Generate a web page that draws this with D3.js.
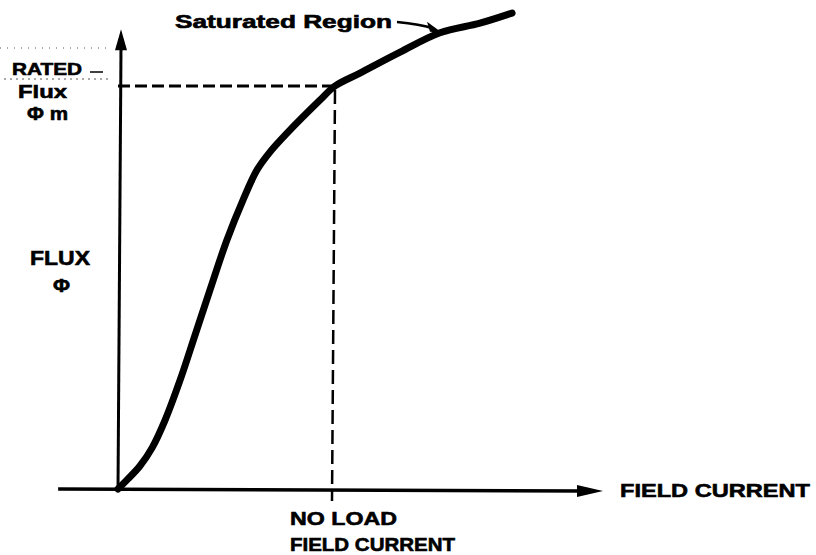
<!DOCTYPE html>
<html>
<head>
<meta charset="utf-8">
<script src="https://cdn.jsdelivr.net/npm/d3@7"></script>
<style>
  body { margin: 0; background: #fff; }
  text { font-family: "Liberation Sans", Arial, sans-serif; font-weight: bold; fill: #000; stroke: #000; stroke-width: 0.6; }
</style>
</head>
<body>
<div id="chart"></div>
<script>
var width = 816;
var height = 555;

// magnetization curve, 1 = no load field current / rated flux
var fieldCurrent = [0, 0.046, 0.101, 0.157, 0.217, 0.286, 0.355, 0.424, 0.502, 0.576, 0.641, 0.700, 0.779, 0.931, 1.0, 1.115, 1.300, 1.484, 1.668, 1.816];
var flux = [0, 0.025, 0.057, 0.102, 0.171, 0.270, 0.382, 0.494, 0.618, 0.717, 0.792, 0.836, 0.883, 0.965, 1.0, 1.032, 1.084, 1.132, 1.156, 1.181];

var noLoadCurrent = 1.0;
var ratedFlux = 1.0;
var xAxisExtent = [-0.276, 2.235];
var yAxisExtent = [0, 1.141];

var svg = d3.select("#chart")
    .append("svg")
    .attr("width", width)
    .attr("height", height);

var xScale = d3.scaleLinear().domain([0, 1]).range([118, 335]);
var yScale = d3.scaleLinear().domain([0, 1]).range([489, 86]);

// scan artifacts near the rated flux label
svg.append("line")
    .attr("x1", 0).attr("x2", 106).attr("y1", 48).attr("y2", 48)
    .attr("stroke", "#555").attr("stroke-width", 1)
    .attr("stroke-dasharray", "1,6");
svg.append("line")
    .attr("x1", 4).attr("x2", 108).attr("y1", 79).attr("y2", 79)
    .attr("stroke", "#555").attr("stroke-width", 1)
    .attr("stroke-dasharray", "2,4");
svg.append("line")
    .attr("x1", 90).attr("x2", 103).attr("y1", 72).attr("y2", 72)
    .attr("stroke", "#000").attr("stroke-width", 1.5);

// axes
svg.append("line")
    .attr("x1", xScale(xAxisExtent[0])).attr("x2", xScale(xAxisExtent[1]) - 20)
    .attr("y1", yScale(0)).attr("y2", yScale(0) + 2)
    .attr("stroke", "#000").attr("stroke-width", 3.5);
svg.append("path")
    .attr("d", "M" + xScale(xAxisExtent[1]) + "," + (yScale(0) + 2) +
         "L" + (xScale(xAxisExtent[1]) - 26) + "," + (yScale(0) - 4) +
         "L" + (xScale(xAxisExtent[1]) - 26) + "," + (yScale(0) + 8) + "Z")
    .attr("fill", "#000");

svg.append("line")
    .attr("x1", xScale(0)).attr("x2", xScale(0) + 3)
    .attr("y1", yScale(0)).attr("y2", yScale(yAxisExtent[1]) + 18)
    .attr("stroke", "#000").attr("stroke-width", 3);
svg.append("path")
    .attr("d", "M" + (xScale(0) + 3) + "," + yScale(yAxisExtent[1]) +
         "L" + (xScale(0) - 3) + "," + (yScale(yAxisExtent[1]) + 21) +
         "L" + (xScale(0) + 9) + "," + (yScale(yAxisExtent[1]) + 21) + "Z")
    .attr("fill", "#000");

// rated flux / no load current guides
svg.append("line")
    .attr("x1", xScale(0)).attr("x2", xScale(noLoadCurrent))
    .attr("y1", yScale(ratedFlux)).attr("y2", yScale(ratedFlux))
    .attr("stroke", "#000").attr("stroke-width", 3)
    .attr("stroke-dasharray", "12,5");
svg.append("line")
    .attr("x1", xScale(noLoadCurrent)).attr("x2", xScale(noLoadCurrent) - 3)
    .attr("y1", yScale(ratedFlux) + 4).attr("y2", yScale(0) + 12)
    .attr("stroke", "#000").attr("stroke-width", 2.5)
    .attr("stroke-dasharray", "14,6");

// the curve
var points = fieldCurrent.map(function(d, i) { return [d, flux[i]]; });
var line = d3.line()
    .x(function(d) { return xScale(d[0]); })
    .y(function(d) { return yScale(d[1]); })
    .curve(d3.curveCatmullRom);
svg.append("path")
    .datum(points)
    .attr("d", line)
    .attr("fill", "none")
    .attr("stroke", "#000")
    .attr("stroke-width", 7)
    .attr("stroke-linecap", "round");

// saturated region pointer
var tipX = xScale(fieldCurrent[17]);
var tipY = yScale(flux[17]);
svg.append("path")
    .attr("d", "M397,22 Q420,24 " + (tipX - 6) + "," + (tipY - 4))
    .attr("fill", "none").attr("stroke", "#000").attr("stroke-width", 2.5);
svg.append("path")
    .attr("d", "M" + (tipX + 2) + "," + tipY +
         "L" + (tipX - 13) + "," + (tipY - 11) +
         "L" + (tipX - 10) + "," + (tipY - 1) + "Z")
    .attr("fill", "#000");

// labels
function label(txt, x, y, size, len) {
    svg.append("text")
        .attr("x", x).attr("y", y)
        .attr("font-size", size)
        .attr("textLength", len)
        .attr("lengthAdjust", "spacingAndGlyphs")
        .text(txt);
}
label("Saturated Region", 175, 28, 18, 217);
label("RATED", 12, 75, 17, 70);
label("Flux", 18, 98, 19, 49);
label("\u03A6 m", 27, 120, 19, 41);
label("FLUX", 30, 265, 21, 60);
label("\u03A6", 53, 292, 18, 17);
label("NO LOAD", 290, 525, 19, 107);
label("FIELD CURRENT", 290, 551, 19, 165);
label("FIELD CURRENT", 620, 497, 19, 190);
</script>
</body>
</html>
